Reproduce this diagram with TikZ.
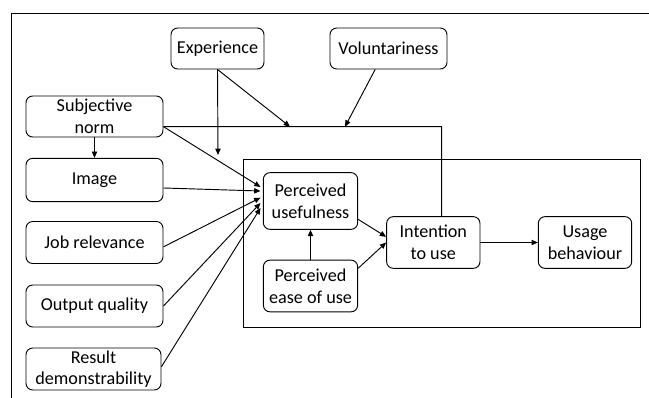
\documentclass[tikz,border=0pt]{standalone}
\usepackage{fontspec}
\setmainfont{Carlito}
\usepackage{tikz}
\usetikzlibrary{arrows.meta,positioning}
\tikzset{
  box/.style={draw, rounded corners=2mm, align=center, inner sep=0pt,
    minimum width=41.1mm, minimum height=12.6mm,
    font=\fontsize{15.5}{18.5}\selectfont},
  arr/.style={-{Triangle[length=1.9mm,width=1.6mm]}},
}

\begin{document}
\begin{tikzpicture}[x=0.3mm, y=-0.3mm, line width=0.8pt]
\useasboundingbox (0,0) rectangle (649,398);

\draw (649,13) -- (11,13) -- (11,398);
\draw (243,159) rectangle (640,327);

\node [box, minimum width=27.9mm, minimum height=12.3mm] (exp) at (217.5,48.5) {Experience};
\node [box, minimum width=35.1mm, minimum height=12.3mm] (vol) at (388.5,48.5) {Voluntariness};
\node [box, minimum height=12.3mm] (subj) at (94.5,116.5) {Subjective\\norm};
\node [box, minimum height=13mm] (img) at (94.5,180) {Image};
\node [box] (job) at (94.5,242.5) {Job relevance};
\node [box] (out) at (94.5,306) {Output quality};
\node [box, minimum width=40.5mm] (res) at (93.5,369) {Result\\demonstrability};
\node [box, minimum width=28.3mm, minimum height=17mm] (pu) at (310.5,201) {Perceived\\usefulness};
\node [box, minimum width=28.3mm, minimum height=15.5mm] (peou) at (310.5,286) {Perceived\\ease of use};
\node [box, minimum width=28mm, minimum height=15.5mm] (itu) at (433.3,242.5) {Intention\\to use};
\node [box, minimum width=28mm, minimum height=15.5mm] (ub) at (585,242.5) {Usage\\behaviour};

\coordinate (expend) at (218,155);
\coordinate (j1) at (290,126.7);
\coordinate (j2) at (345,126.7);
\coordinate (corner) at (441.7,126.7);
\coordinate (s0) at ([yshift=-3.05mm]subj.east);

\draw [arr] (subj) -- (img);
\draw [arr] (exp.south) -- (expend);
\draw [arr] (exp.south) -- (j1);
\draw [arr] ([xshift=-4mm]vol.south) -- (j2);
\draw (s0) -- (corner) -- (corner |- itu.north);

\draw [arr] (s0) -- ([xshift=-0.7mm,yshift=4.2mm]pu.west);
\draw [arr] ([yshift=-2.4mm]img.east) -- ([xshift=-0.7mm,yshift=3mm]pu.west);
\draw [arr] ([yshift=-1.3mm]job.east) -- ([xshift=-0.7mm,yshift=1mm]pu.west);
\draw [arr] (out.east) -- ([xshift=-0.7mm,yshift=-0.6mm]pu.west);
\draw [arr] ([yshift=0.7mm]res.east) -- ([xshift=-0.7mm,yshift=-2.1mm]pu.west);

\draw [arr] (peou) -- (pu);
\draw [arr] ([yshift=-5.5mm]pu.east) -- ([yshift=1.7mm]itu.west);
\draw [arr] ([yshift=5.3mm]peou.east) -- (itu.west);
\draw [arr] (itu) -- (ub);

\end{tikzpicture}
\end{document}
